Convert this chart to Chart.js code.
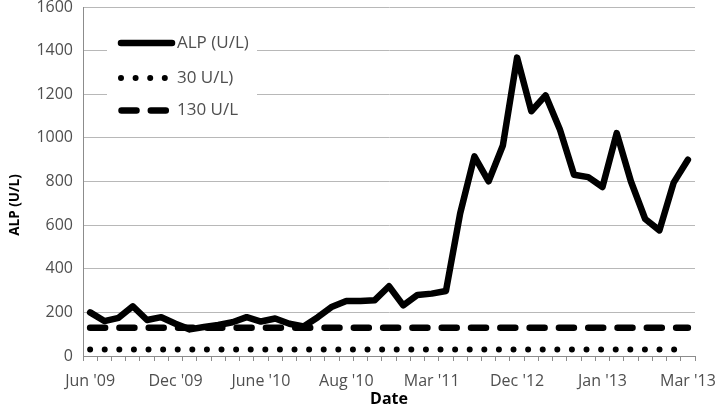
<!DOCTYPE html>
<html>
<head>
<meta charset="utf-8">
<script src="https://cdn.jsdelivr.net/npm/chart.js@4.4.1/dist/chart.umd.min.js"></script>
<style>
  html, body { margin: 0; padding: 0; background: #fff; }
  #wrap { width: 720px; height: 409px; }
</style>
</head>
<body>
<div id="wrap"><canvas id="alpChart" width="720" height="409"></canvas></div>
<script>
// tick labels shown under the axis, one every 6 samples
const tickLabels = ["Jun '09", "Dec '09", "June '10", "Aug '10", "Mar '11", "Dec '12", "Jan '13", "Mar '13"];
const labelEvery = 6;

const alpValues = [
  200, 160, 175, 228, 165, 178, 148, 122, 133, 142,
  155, 178, 158, 172, 148, 135, 178, 226, 252, 252,
  256, 320, 232, 280, 286, 298, 654, 915, 801, 965,
  1368, 1122, 1195, 1040, 831, 820, 775, 1022, 800, 628,
  576, 795, 900
];

// reference limits
const lowerLimit = [
  30, 30, 30, 30, 30, 30, 30, 30, 30, 30,
  30, 30, 30, 30, 30, 30, 30, 30, 30, 30,
  30, 30, 30, 30, 30, 30, 30, 30, 30, 30,
  30, 30, 30, 30, 30, 30, 30, 30, 30, 30,
  30, 30, 30
];
const upperLimit = [
  130, 130, 130, 130, 130, 130, 130, 130, 130, 130,
  130, 130, 130, 130, 130, 130, 130, 130, 130, 130,
  130, 130, 130, 130, 130, 130, 130, 130, 130, 130,
  130, 130, 130, 130, 130, 130, 130, 130, 130, 130,
  130, 130, 130
];

const seriesNames = ["ALP (U/L)", "30 U/L)", "130 U/L"];

const categories = alpValues.map((v, i) =>
  i % labelEvery === 0 ? tickLabels[i / labelEvery] : ""
);

const fontFamily = "'Open Sans', 'Noto Sans', sans-serif";
const textGrey = "#4f4f4f";

// legend drawn inside the plot, plus the rotated y title
const insetLegend = {
  id: "insetLegend",
  beforeDatasetsDraw(chart) {
    const c = chart.ctx;
    const area = chart.chartArea;
    const x0 = area.left + 24;
    const rows = [36, 71, 103.5];
    c.save();
    c.fillStyle = "#fff";
    c.fillRect(x0, area.top + 17, 150, 104);
    chart.data.datasets.forEach((ds, i) => {
      const y = area.top + rows[i];
      c.beginPath();
      c.strokeStyle = ds.borderColor;
      c.lineWidth = ds.borderWidth;
      c.lineCap = "round";
      c.setLineDash(ds.borderDash || []);
      if (i === 2) {
        c.moveTo(x0 + 14.5, y);
        c.lineTo(x0 + 59, y);
      } else {
        c.moveTo(x0 + 14, y);
        c.lineTo(x0 + 65, y);
      }
      c.stroke();
      c.setLineDash([]);
      c.fillStyle = textGrey;
      c.font = "17px " + fontFamily;
      c.textBaseline = "middle";
      c.textAlign = "left";
      c.fillText(ds.label, x0 + 70, y);
    });
    c.restore();
  },
  afterDraw(chart) {
    const c = chart.ctx;
    c.save();
    c.translate(15, 205);
    c.rotate(-Math.PI / 2);
    c.fillStyle = "#000";
    c.font = "bold 13.5px " + fontFamily;
    c.textAlign = "center";
    c.textBaseline = "middle";
    c.fillText("ALP (U/L)", 0, 0);
    c.restore();
  }
};

const ctx = document.getElementById("alpChart").getContext("2d");
const alpChart = new Chart(ctx, {
  type: "line",
  data: {
    labels: categories,
    datasets: [
      {
        label: seriesNames[0],
        data: alpValues,
        borderColor: "#000",
        borderWidth: 6.5,
        borderJoinStyle: "round",
        borderCapStyle: "round",
        pointRadius: 0,
        tension: 0,
        fill: false,
      },
      {
        label: seriesNames[1],
        data: lowerLimit,
        borderColor: "#000",
        borderWidth: 6,
        borderDash: [0, 14.6],
        borderCapStyle: "round",
        pointRadius: 0,
        fill: false,
      },
      {
        label: seriesNames[2],
        data: upperLimit,
        borderColor: "#000",
        borderWidth: 6.5,
        borderDash: [15, 14.3],
        borderCapStyle: "round",
        pointRadius: 0,
        fill: false,
      },
    ],
  },
  options: {
    responsive: false,
    animation: false,
    devicePixelRatio: 1,
    layout: { padding: { top: 7, right: 25, left: 0, bottom: 0 } },
    plugins: {
      legend: { display: false },
      tooltip: { enabled: false },
    },
    scales: {
      x: {
        offset: true,
        grid: {
          offset: true,
          drawOnChartArea: false,
          drawTicks: true,
          tickLength: 5,
          color: "#8c8c8c",
        },
        border: { color: "#8c8c8c", width: 1 },
        ticks: {
          autoSkip: false,
          maxRotation: 0,
          minRotation: 0,
          padding: 11,
          color: textGrey,
          font: { family: fontFamily, size: 16 },
        },
        title: {
          display: true,
          text: "Date",
          color: "#000",
          padding: 0,
          font: { family: fontFamily, size: 16, weight: "bold" },
        },
        afterFit: (scale) => {
          scale.height = 53;
          scale.paddingLeft = 0;
          scale.paddingRight = 0;
        },
      },
      y: {
        min: 0,
        max: 1600,
        ticks: {
          stepSize: 200,
          padding: 10,
          color: textGrey,
          font: { family: fontFamily, size: 16 },
          callback: (v) => String(v),
        },
        grid: { color: "#b8b8b8", drawTicks: false },
        border: { display: true, color: "#8c8c8c" },
        afterFit: (scale) => {
          scale.width = 83;
          scale.paddingTop = 0;
          scale.paddingBottom = 0;
        },
      },
    },
  },
  plugins: [insetLegend],
});
</script>
</body>
</html>
